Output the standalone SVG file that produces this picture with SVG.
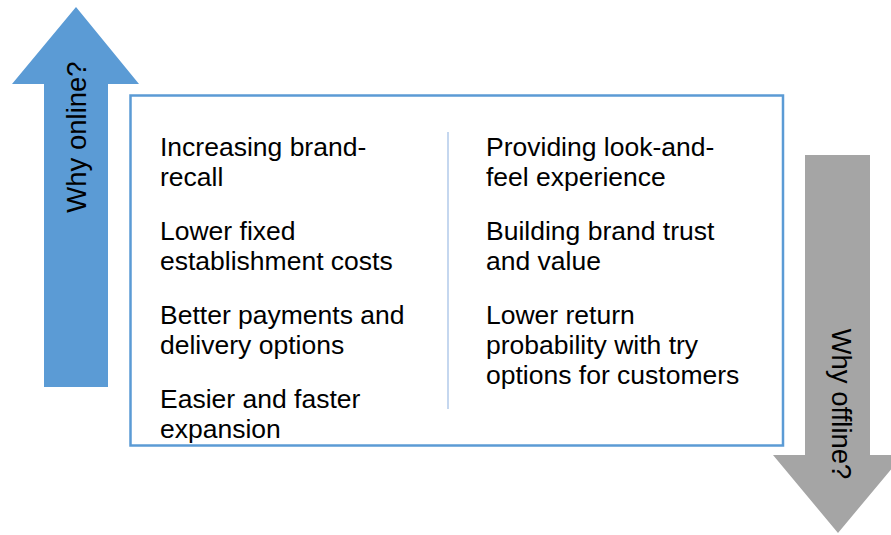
<svg xmlns="http://www.w3.org/2000/svg" width="891" height="535" viewBox="0 0 891 535">
<style>
  .t { font-family: "Liberation Sans", Arial, sans-serif; font-size: 26.5px; fill: #000; }
  .lbl { font-family: "Liberation Sans", Arial, sans-serif; font-size: 27.5px; fill: #000; }
</style>
<rect width="891" height="535" fill="#fff"/>
<g id="arrow-online">
  <polygon points="76,7 139,84 108,84 108,387 44,387 44,84 12,84" fill="#5b9bd5"/>
  <text class="lbl" transform="translate(86,137) rotate(-90)" text-anchor="middle">Why online?</text>
</g>
<g id="arrow-offline">
  <polygon points="805,155 870,155 870,455 903,455 838,533 773,455 805,455" fill="#a5a5a5"/>
  <text class="lbl" transform="translate(832,404) rotate(90)" text-anchor="middle">Why offline?</text>
</g>
<g id="panel">
  <rect x="130.5" y="95.5" width="652.5" height="350" fill="#fff" stroke="#5b9bd5" stroke-width="2.5"/>
  <line x1="448" y1="132" x2="448" y2="409" stroke="#c5d7ef" stroke-width="2"/>
</g>
<g id="online-reasons">
  <text class="t" x="160" y="156">Increasing brand-</text>
  <text class="t" x="160" y="186">recall</text>
  <text class="t" x="160" y="240">Lower fixed</text>
  <text class="t" x="160" y="270">establishment costs</text>
  <text class="t" x="160" y="324">Better payments and</text>
  <text class="t" x="160" y="354">delivery options</text>
  <text class="t" x="160" y="408">Easier and faster</text>
  <text class="t" x="160" y="438">expansion</text>
</g>
<g id="offline-reasons">
  <text class="t" x="486" y="156">Providing look-and-</text>
  <text class="t" x="486" y="186">feel experience</text>
  <text class="t" x="486" y="240">Building brand trust</text>
  <text class="t" x="486" y="270">and value</text>
  <text class="t" x="486" y="324">Lower return</text>
  <text class="t" x="486" y="354">probability with try</text>
  <text class="t" x="486" y="384">options for customers</text>
</g>
<g id="connectors"></g>
</svg>
